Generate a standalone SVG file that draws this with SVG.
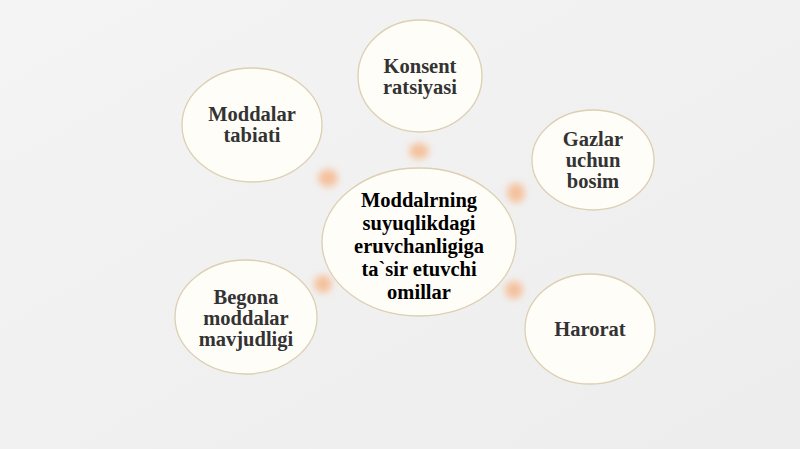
<svg xmlns="http://www.w3.org/2000/svg" width="800" height="449" viewBox="0 0 800 449">
<defs>
<linearGradient id="bg" x1="0" y1="0" x2="1" y2="1">
<stop offset="0" stop-color="#f4f4f4"/>
<stop offset="1" stop-color="#ededed"/>
</linearGradient>
<filter id="blur" x="-1" y="-1" width="3" height="3"><feGaussianBlur stdDeviation="3.5"/></filter>
<style>
.n{fill:#fffdf8;stroke:#dccfb2;stroke-width:1.3}
.t{font-family:"Liberation Serif",serif;font-weight:bold;font-size:20.5px;fill:#333333;text-anchor:middle}
.c{fill:#000000}
.a{fill:#f6b98e;opacity:0.85;filter:url(#blur)}
</style>
</defs>
<rect width="800" height="449" fill="url(#bg)"/>
<g id="connectors">
<ellipse class="a" cx="419" cy="151" rx="10" ry="8"/>
<ellipse class="a" cx="328" cy="178" rx="10" ry="9"/>
<ellipse class="a" cx="516" cy="193" rx="9" ry="10"/>
<ellipse class="a" cx="323" cy="284" rx="9" ry="9"/>
<ellipse class="a" cx="514" cy="290" rx="9" ry="9"/>
</g>
<g id="center">
<ellipse class="n" cx="419" cy="242" rx="97" ry="74"/>
<text class="t c" x="419" y="207">Moddalrning</text>
<text class="t c" x="419" y="230">suyuqlikdagi</text>
<text class="t c" x="419" y="253">eruvchanligiga</text>
<text class="t c" x="419" y="276">ta`sir etuvchi</text>
<text class="t c" x="419" y="299">omillar</text>
</g>
<g id="konsent">
<ellipse class="n" cx="420" cy="76" rx="62" ry="56"/>
<text class="t" x="420" y="73">Konsent</text>
<text class="t" x="420" y="94">ratsiyasi</text>
</g>
<g id="tabiati">
<ellipse class="n" cx="252" cy="125" rx="70" ry="57"/>
<text class="t" x="252" y="121">Moddalar</text>
<text class="t" x="252" y="142">tabiati</text>
</g>
<g id="gazlar">
<ellipse class="n" cx="593" cy="160" rx="61" ry="50"/>
<text class="t" x="593" y="146">Gazlar</text>
<text class="t" x="593" y="167">uchun</text>
<text class="t" x="593" y="188">bosim</text>
</g>
<g id="harorat">
<ellipse class="n" cx="590" cy="329" rx="65" ry="55"/>
<text class="t" x="590" y="336">Harorat</text>
</g>
<g id="begona">
<ellipse class="n" cx="246" cy="317" rx="71" ry="57"/>
<text class="t" x="246" y="304">Begona</text>
<text class="t" x="246" y="325">moddalar</text>
<text class="t" x="246" y="346">mavjudligi</text>
</g>
</svg>
